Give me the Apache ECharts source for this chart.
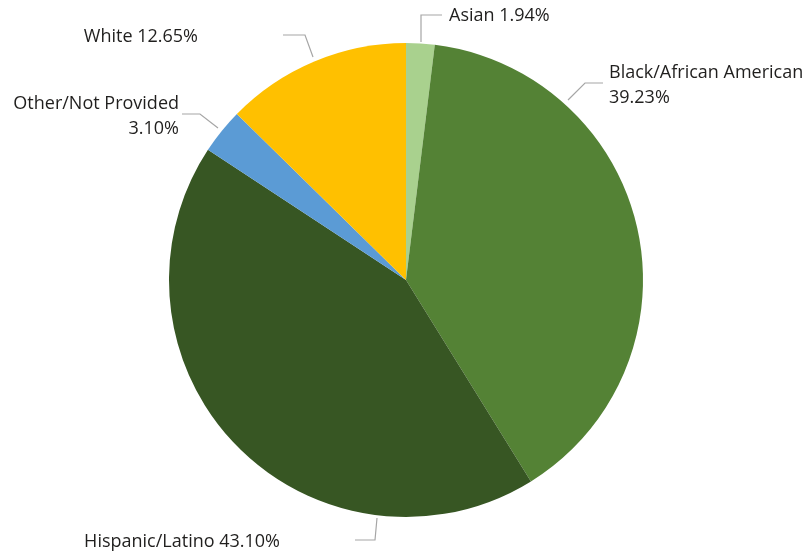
<!DOCTYPE html>
<html>
<head>
<meta charset="utf-8">
<script src="https://cdn.jsdelivr.net/npm/echarts@6/dist/echarts.min.js"></script>
<style>
html,body{margin:0;padding:0;background:#fff;}
#chart{width:808px;height:558px;}
</style>
</head>
<body>
<div id="chart"></div>
<script>
const categories = ['Asian', 'Black/African American', 'Hispanic/Latino', 'Other/Not Provided', 'White'];
const values = [1.94, 39.23, 43.10, 3.10, 12.65];
const colors = ['#a9d18e', '#548235', '#375623', '#5b9bd5', '#ffc000'];
const labelBreaks = [false, true, false, true, false];

// label placement (layout only)
const labelPlacement = [
  {x: 449, y: 16, align: 'left', pts: [[421, 42], [421, 15], [442, 15]]},
  {x: 609, y: 85, align: 'left', pts: [[568, 100], [585, 83], [603, 83]]},
  {x: 280, y: 542, align: 'right', pts: [[377, 518], [375, 540], [355, 540]]},
  {x: 179, y: 116, align: 'right', pts: [[218, 128], [200, 114], [182, 114]]},
  {x: 198, y: 37, align: 'right', pts: [[313, 57], [305, 35], [283, 35]]}
];

const chart = echarts.init(document.getElementById('chart'), null, {renderer: 'canvas'});
chart.setOption({
  animation: false,
  backgroundColor: '#ffffff',
  series: [{
    type: 'pie',
    center: [406, 280],
    radius: 237,
    startAngle: 90,
    clockwise: true,
    data: categories.map((c, i) => ({name: c, value: values[i], itemStyle: {color: colors[i]}})),
    itemStyle: {borderWidth: 0},
    emphasis: {disabled: true},
    label: {
      show: true,
      position: 'outside',
      overflow: 'none',
      fontFamily: '"Segoe UI", "Open Sans", sans-serif',
      fontSize: 18,
      lineHeight: 25,
      color: '#201f1e',
      formatter: p => p.name + (labelBreaks[p.dataIndex] ? '\n' : ' ') + values[p.dataIndex].toFixed(2) + '%'
    },
    labelLine: {show: true, lineStyle: {color: '#a6a6a6', width: 1.2}},
    labelLayout: function (params) {
      const L = labelPlacement[params.dataIndex];
      return {
        x: L.x, y: L.y, align: L.align, verticalAlign: 'middle',
        labelLinePoints: L.pts
      };
    }
  }]
});
</script>
</body>
</html>
